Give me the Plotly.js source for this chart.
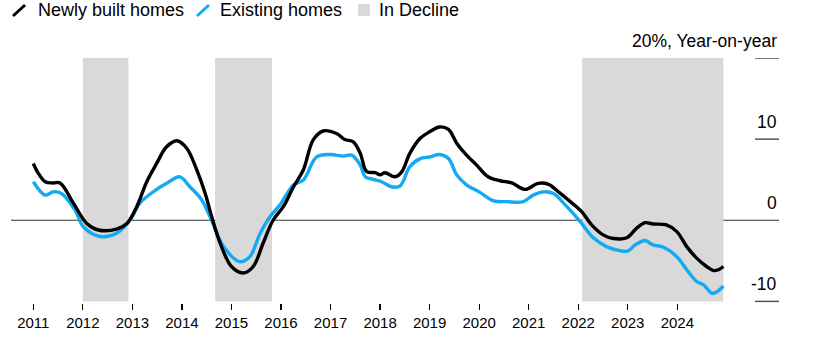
<!DOCTYPE html>
<html>
<head>
<meta charset="utf-8">
<script src="https://cdn.plot.ly/plotly-3.0.1.min.js"></script>
<style>
html,body{margin:0;padding:0;background:#fff;}
#chart{width:822px;height:347px;}
</style>
</head>
<body>
<div id="chart"></div>
<script>
// ---- Data ----
const newYears = [2011.0, 2011.1, 2011.24, 2011.4, 2011.54, 2011.81, 2012.08, 2012.31, 2012.68, 2012.89,
  2013.09, 2013.29, 2013.49, 2013.69, 2013.9, 2014.1, 2014.3, 2014.47, 2014.6, 2014.77,
  2015.0, 2015.24, 2015.44, 2015.64, 2015.84, 2016.05, 2016.25, 2016.45, 2016.65, 2016.85,
  2017.12, 2017.29, 2017.46, 2017.6, 2017.73, 2017.9, 2018.0, 2018.1, 2018.3, 2018.44,
  2018.6, 2018.81, 2019.0, 2019.2, 2019.38, 2019.55, 2019.75, 2019.95, 2020.18, 2020.42,
  2020.66, 2020.93, 2021.19, 2021.4, 2021.6, 2021.84, 2022.07, 2022.27, 2022.5, 2022.71,
  2022.98, 2023.18, 2023.35, 2023.51, 2023.78, 2023.99, 2024.19, 2024.39, 2024.59, 2024.73,
  2024.83, 2024.93];
const newVals = [7.0, 5.8, 4.75, 4.6, 4.6, 2.1, -0.4, -1.2, -1.1, -0.4,
  1.7, 4.75, 7.0, 9.05, 9.8, 8.85, 6.2, 3.3, 0.45, -2.8,
  -5.7, -6.5, -5.7, -2.8, 0.0, 1.7, 4.1, 6.2, 9.9, 11.0,
  10.7, 9.96, 9.67, 8.24, 6.0, 5.86, 5.6, 5.86, 5.36, 6.0,
  8.24, 10.1, 10.9, 11.5, 11.2, 9.47, 8.0, 6.8, 5.36, 4.87,
  4.6, 3.8, 4.55, 4.43, 3.5, 2.29, 1.06, -0.58, -1.8, -2.25,
  -2.15, -0.98, -0.3, -0.46, -0.58, -1.4, -3.25, -4.67, -5.7, -6.2,
  -6.1, -5.7];

const existYears = [2011.0, 2011.24, 2011.4, 2011.57, 2011.84, 2012.01, 2012.35, 2012.68, 2012.95, 2013.15,
  2013.42, 2013.69, 2013.96, 2014.16, 2014.4, 2014.6, 2014.84, 2015.17, 2015.37, 2015.58,
  2015.78, 2015.98, 2016.25, 2016.45, 2016.72, 2017.0, 2017.26, 2017.43, 2017.6, 2017.7,
  2017.86, 2018.03, 2018.23, 2018.4, 2018.6, 2018.81, 2019.0, 2019.2, 2019.38, 2019.55,
  2019.75, 2020.0, 2020.29, 2020.56, 2020.89, 2021.09, 2021.3, 2021.5, 2021.77, 2022.04,
  2022.31, 2022.57, 2022.84, 2023.0, 2023.15, 2023.35, 2023.51, 2023.71, 2023.99, 2024.19,
  2024.39, 2024.53, 2024.7, 2024.8, 2024.93];
const existVals = [4.75, 3.1, 3.5, 3.3, 1.27, -0.8, -2.0, -1.6, 0.0, 2.1,
  3.5, 4.55, 5.35, 4.13, 2.5, 0.0, -3.25, -5.1, -4.5, -1.6,
  0.45, 1.9, 4.35, 4.95, 7.8, 8.1, 7.9, 8.03, 6.8, 5.36,
  5.04, 4.75, 4.13, 4.2, 6.6, 7.6, 7.8, 8.1, 7.6, 5.57,
  4.34, 3.5, 2.4, 2.29, 2.29, 3.1, 3.5, 3.3, 1.67, -0.17,
  -2.2, -3.25, -3.74, -3.8, -3.04, -2.5, -3.04, -3.3, -4.5, -6.1,
  -7.55, -7.96, -9.0, -8.8, -8.1];

const declineStart = [2012.0, 2014.67, 2022.08];
const declineEnd = [2012.92, 2015.82, 2024.93];

const xTickVals = [2011, 2012, 2013, 2014, 2015, 2016, 2017, 2018, 2019, 2020, 2021, 2022, 2023, 2024];
const xTickText = ["2011", "2012", "2013", "2014", "2015", "2016", "2017", "2018", "2019", "2020", "2021", "2022", "2023", "2024"];
const yTickVals = [20, 10, 0, -10];
const yTickText = ["20%, Year-on-year", "10", "0", "-10"];

const legendNames = ["Newly built homes", "Existing homes", "In Decline"];

// ---- Styles ----
const FONT = '"Liberation Sans", Arial, sans-serif';
const BLACK = '#000000';
const BLUE = '#12aaf2';
const SHADE = '#d9d9d9';
const W = 822, H = 347;
const M = {l: 11, r: 43, t: 58, b: 44};
const PW = W - M.l - M.r, PH = H - M.t - M.b;
const px = v => (v - M.l) / PW;          // pixel x -> paper x
const py = v => (H - M.b - v) / PH;      // pixel y -> paper y

const traces = [
  {x: existYears, y: existVals, type: 'scatter', mode: 'lines', name: legendNames[1],
   line: {color: BLUE, width: 3.4, shape: 'spline', smoothing: 1.0}, hoverinfo: 'skip'},
  {x: newYears, y: newVals, type: 'scatter', mode: 'lines', name: legendNames[0],
   line: {color: BLACK, width: 3.4, shape: 'spline', smoothing: 1.0}, hoverinfo: 'skip'}
];

const shapes = [];
for (let i = 0; i < declineStart.length; i++) {
  shapes.push({type: 'rect', xref: 'x', yref: 'y', x0: declineStart[i], x1: declineEnd[i],
    y0: -10, y1: 20, fillcolor: SHADE, line: {width: 0}, layer: 'below'});
}
yTickVals.forEach(v => {
  if (v === 0) {
    shapes.push({type: 'line', xref: 'paper', yref: 'y', x0: 0, x1: 1, y0: 0, y1: 0,
      line: {color: '#333', width: 1.2}, layer: 'below'});
  } else {
    shapes.push({type: 'line', xref: 'paper', yref: 'y', x0: px(755), x1: 1, y0: v, y1: v,
      line: {color: '#555', width: 1.5}, layer: 'below'});
  }
});
// legend icons
shapes.push({type: 'line', xref: 'paper', yref: 'paper', x0: px(13), y0: py(16), x1: px(25), y1: py(5),
  line: {color: BLACK, width: 3}});
shapes.push({type: 'line', xref: 'paper', yref: 'paper', x0: px(197), y0: py(16), x1: px(209), y1: py(5),
  line: {color: BLUE, width: 3}});
shapes.push({type: 'rect', xref: 'paper', yref: 'paper', x0: px(358), y0: py(16), x1: px(370), y1: py(4),
  fillcolor: SHADE, line: {width: 0}});

const annotations = [];
yTickVals.forEach((v, i) => {
  annotations.push({xref: 'paper', yref: 'y', x: 1, y: v, text: yTickText[i], showarrow: false,
    xanchor: 'right', yanchor: 'middle', yshift: 17, font: {family: FONT, size: 17.5, color: '#000'}});
});
const legX = [36, 218, 377];
legendNames.forEach((n, i) => {
  annotations.push({xref: 'paper', yref: 'paper', x: px(legX[i]), y: py(10.5), text: n, showarrow: false,
    xanchor: 'left', yanchor: 'middle', font: {family: FONT, size: 18, color: '#000'}});
});

const layout = {
  width: W, height: H,
  margin: M,
  paper_bgcolor: '#fff', plot_bgcolor: 'rgba(0,0,0,0)',
  showlegend: false,
  font: {family: FONT, color: '#000'},
  xaxis: {
    range: [2011 - 22.3 / 49.54, 2011 + 745.7 / 49.54],
    tickvals: xTickVals, ticktext: xTickText,
    ticks: 'outside', ticklen: 6, tickwidth: 1.2, tickcolor: '#000',
    showgrid: false, zeroline: false, showline: false,
    tickfont: {family: FONT, size: 15, color: '#000'}, fixedrange: true
  },
  yaxis: {
    range: [-10.2, 20], showgrid: false, zeroline: false, showline: false,
    showticklabels: false, ticks: '', fixedrange: true
  },
  shapes: shapes,
  annotations: annotations
};

Plotly.newPlot('chart', traces, layout, {displayModeBar: false, staticPlot: true});
</script>
</body>
</html>
